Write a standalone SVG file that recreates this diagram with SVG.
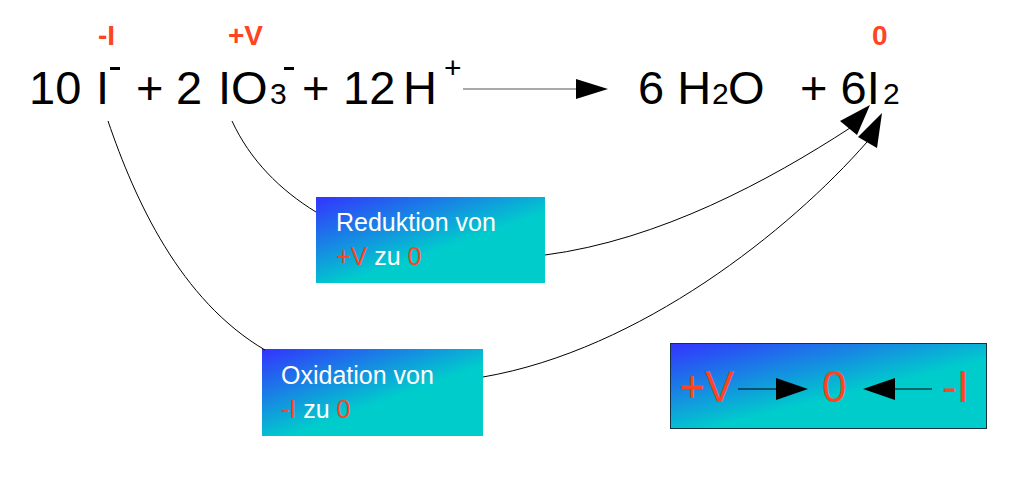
<svg xmlns="http://www.w3.org/2000/svg" width="1036" height="485" viewBox="0 0 1036 485">
<defs>
<linearGradient id="g" x1="0" y1="0" x2="0.55" y2="0.6">
<stop offset="0" stop-color="#3333ff"/><stop offset="1" stop-color="#00cccc"/>
</linearGradient>
<style>
text{font-family:"Liberation Sans",Arial,sans-serif}
.m{font-size:47px;fill:#000}
.s{font-size:30px;fill:#000}
.o{font-size:28px;font-weight:bold;fill:#ff4422}
.b{font-size:25px;fill:#fff}
.r{fill:#ff4422}
.l{font-size:44px;fill:#ff4422}
.c{fill:none;stroke:#000;stroke-width:1}
</style>
</defs>
<rect width="1036" height="485" fill="#fff"/>
<g id="equation">
<text class="o" x="98" y="45">-I</text>
<text class="o" x="228" y="45">+V</text>
<text class="o" x="872" y="45">0</text>
<text class="m" x="29" y="104">10</text>
<text class="m" x="96" y="104">I</text>
<rect x="110" y="67" width="10" height="3" fill="#000"/>
<text class="m" x="136" y="104">+</text>
<text class="m" x="176" y="104">2</text>
<text class="m" x="218" y="104">IO</text>
<text class="s" x="270" y="104">3</text>
<rect x="284" y="67" width="10" height="3" fill="#000"/>
<text class="m" x="302" y="104">+</text>
<text class="m" x="343" y="104">12</text>
<text class="m" x="403" y="104">H</text>
<text class="s" x="444" y="78">+</text>
<text class="m" x="638" y="104">6 H</text>
<text class="s" x="712" y="104">2</text>
<text class="m" x="728" y="104">O</text>
<text class="m" x="800" y="104">+ 6I</text>
<text class="s" x="883" y="104">2</text>
</g>
<g id="reduktion">
<rect x="316" y="197" width="229" height="86" fill="url(#g)"/>
<text class="b" x="336" y="231">Reduktion von</text>
<text class="b" x="336" y="265"><tspan class="r">+V</tspan> zu <tspan class="r">0</tspan></text>
</g>
<g id="oxidation">
<rect x="262" y="349" width="221" height="87" fill="url(#g)"/>
<text class="b" x="281" y="384">Oxidation von</text>
<text class="b" x="281" y="418"><tspan class="r">-I</tspan> zu <tspan class="r">0</tspan></text>
</g>
<g id="legend">
<rect x="670.5" y="343.5" width="316" height="85" fill="url(#g)" stroke="#113344" stroke-width="1"/>
<text class="l" x="679" y="402">+V</text>
<text class="l" x="822" y="402">0</text>
<text class="l" x="942" y="402">-I</text>
<line x1="738" y1="389" x2="776" y2="389" stroke="#000"/>
<polygon points="776,378 808,389 776,400" fill="#000"/>
<line x1="895" y1="389" x2="932" y2="389" stroke="#000"/>
<polygon points="895,378 863,389 895,400" fill="#000"/>
</g>
<g id="connectors">
<line x1="463" y1="89" x2="576" y2="89" stroke="#555" stroke-width="1.2"/>
<polygon points="576,79 608,89 576,99" fill="#000"/>
<path class="c" d="M108,121 C135,200 180,300 265,350"/>
<path class="c" d="M232,121 C250,160 280,190 316,212"/>
<path class="c" d="M545,255 C660,240 770,180 850,128"/>
<polygon points="870,105 840,121 857,135" fill="#000"/>
<path class="c" d="M483,377 C640,350 790,230 867,142"/>
<polygon points="882,113 858,137 877,148" fill="#000"/>
</g>
</svg>
